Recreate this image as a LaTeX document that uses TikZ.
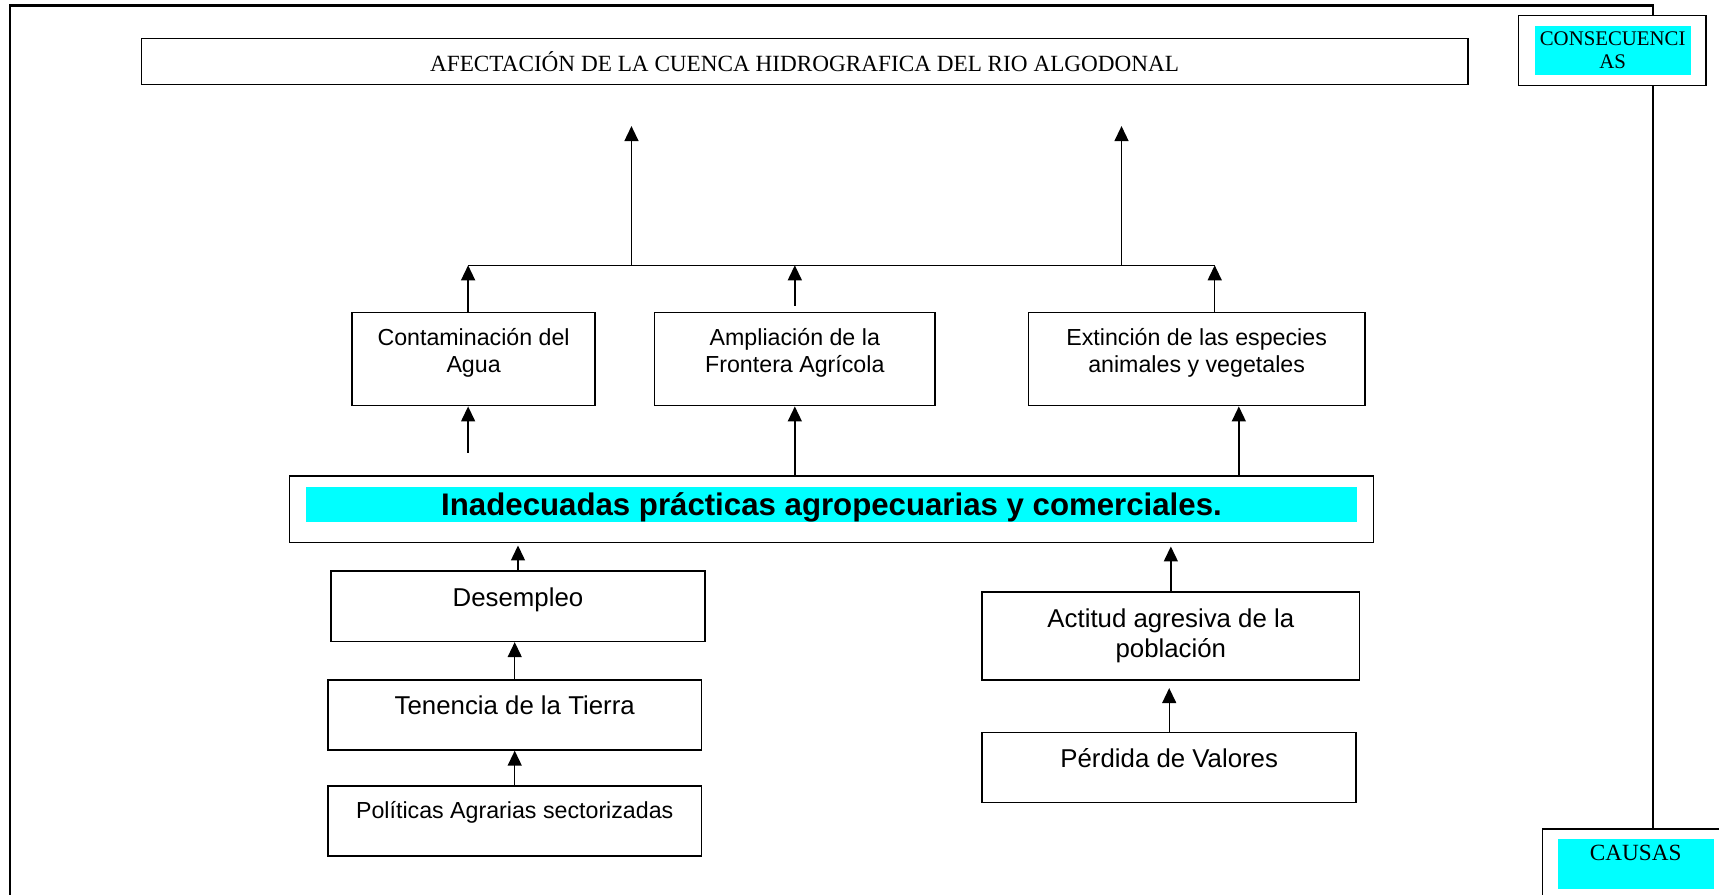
\documentclass[tikz,border=0pt]{standalone}
\usepackage{fontspec}
\setmainfont{Liberation Serif}
\setsansfont{Liberation Sans}
\usetikzlibrary{arrows.meta,positioning,fit}
\definecolor{celeste}{RGB}{0,255,255}
\tikzset{
  marco/.style = {line width=1.2pt},
  caja/.style = {draw=black, line width=0.8pt, fill=white, inner sep=0pt},
  fondo/.style = {fill=celeste, inner sep=0pt},
  texto/.style = {align=center, inner sep=0pt,
    font=\sffamily\fontsize{11.6}{13.7}\selectfont},% texto de las cajas
  textog/.style = {texto, font=\sffamily\fontsize{12.9}{15}\selectfont},% causas
  flecha/.style = {-{Triangle[length=7.5pt,width=7pt]}, line width=0.7pt}
}

\begin{document}
\begin{tikzpicture}[x=0.548pt,y=-0.548pt]
    \useasboundingbox (0,0) rectangle (1568,816);
    % marco y etiquetas laterales
    \coordinate (marcoI) at (9,816);
    \coordinate (marcoD) at (1508,5);
    \node[caja, fit={(1407,756) (1600,840)}] (causas) {};
    \draw[marco] (marcoI) |- (marcoD) -- (marcoD |- causas.north);
    \node[fondo, fit={(1421,765) (1563,811)}] (fcausas) {};
    \node[below=3.3pt of fcausas.north, inner sep=0pt,
      font=\fontsize{11.6}{13.7}\selectfont] (tcausas) {CAUSAS};
    \node[caja, fit={(1385,14) (1556,78)}] (consec) {};
    \node[fondo, fit={(1400,24) (1542,68)}] (fconsec) {};
    \node[align=center, inner sep=0pt, font=\fontsize{10.4}{11.7}\selectfont]
      (tconsec) at (fconsec) {CONSECUENCI\\AS};
    % titulo
    \node[caja, fit={(129,35) (1339,77)}] (titulo) {};
    \node[inner sep=0pt, font=\fontsize{11.6}{13.7}\selectfont] (ttitulo) at (titulo)
      {AFECTACIÓN DE LA CUENCA HIDROGRAFICA DEL RIO ALGODONAL};
    % efectos
    \node[caja, fit={(321,285) (543,370)}] (contam) {};
    \node[texto, below=8pt of contam.north] (tcontam) {Contaminación del\\Agua};
    \node[caja, fit={(597,285) (853,370)}] (amplia) {};
    \node[texto, below=8pt of amplia.north] (tamplia) {Ampliación de la\\Frontera Agrícola};
    \node[caja, fit={(938,285) (1245,370)}] (extin) {};
    \node[texto, below=8pt of extin.north] (textin) {Extinción de las especies\\animales y vegetales};
    % problema central
    \node[caja, fit={(264,434) (1253,495)}] (inadec) {};
    \node[fondo, fit={(279,444) (1238,476)}] (finadec) {};
    \node[inner sep=0pt, yshift=-1.5pt, font=\sffamily\bfseries\fontsize{15.6}{18}\selectfont]
      (tinadec) at (finadec) {Inadecuadas prácticas agropecuarias y comerciales.};
    % causas
    \node[caja, fit={(302,521) (643,585)}] (desemp) {};
    \node[textog, below=8.5pt of desemp.north] (tdesemp) {Desempleo};
    \node[caja, fit={(299,620) (640,684)}] (tenencia) {};
    \node[textog, below=8pt of tenencia.north] (ttenencia) {Tenencia de la Tierra};
    \node[caja, fit={(299,717) (640,781)}] (polit) {};
    \node[texto, below=8pt of polit.north] (tpolit) {Políticas Agrarias sectorizadas};
    \node[caja, fit={(896,540) (1240,620)}] (actitud) {};
    \node[textog, below=8.5pt of actitud.north] (tactitud) {Actitud agresiva de la\\población};
    \node[caja, fit={(896,668) (1237,732)}] (perdida) {};
    \node[textog, below=8.3pt of perdida.north] (tperdida) {Pérdida de Valores};
    % conectores
    \coordinate (barraI) at (427,242);
    \coordinate (barraD) at (1108,242);
    \coordinate (ramaA) at (576,242);
    \coordinate (ramaB) at (1023,242);
    \coordinate (puntaA) at (576,115);
    \coordinate (puntaB) at (1023,115);
    \coordinate (ampliaIni) at (725,279);
    \coordinate (contamIni) at (427,413);
    \coordinate (extinX) at (1130,434);
    \draw[line width=0.7pt] (barraI) -- (barraD);
    \draw[flecha] (ramaA) -- (puntaA);
    \draw[flecha] (ramaB) -- (puntaB);
    \draw[flecha] (contam.north -| barraI) -- (barraI);
    \draw[flecha] (ampliaIni) -- (ampliaIni |- barraI);
    \draw[flecha] (extin.north -| barraD) -- (barraD);
    \draw[flecha] (contamIni) -- (contam.south -| contamIni);
    \draw[flecha] (inadec.north -| amplia) -- (amplia.south);
    \draw[flecha] (inadec.north -| extinX) -- (extin.south -| extinX);
    \draw[flecha, shorten >=1pt] (desemp.north) -- (desemp |- inadec.south);
    \draw[flecha] (tenencia.north) -- (tenencia |- desemp.south);
    \draw[flecha] (polit.north) -- (polit |- tenencia.south);
    \draw[flecha, shorten >=1.5pt] (actitud.north) -- (actitud |- inadec.south);
    \draw[flecha, shorten >=3.8pt] (perdida.north) -- (perdida |- actitud.south);
\end{tikzpicture}
\end{document}
